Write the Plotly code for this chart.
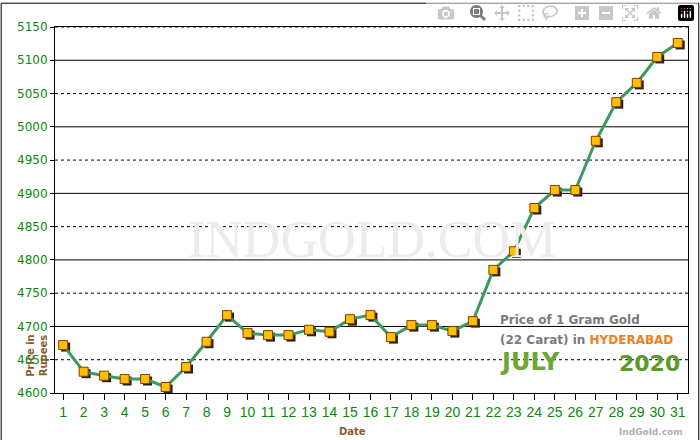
import plotly.graph_objects as go

days = list(range(1, 32))
prices = [4672, 4632, 4626, 4621, 4621, 4609, 4639, 4677, 4717, 4690,
          4687, 4687, 4695, 4692, 4711, 4717, 4684, 4702, 4702, 4693,
          4708, 4785, 4813, 4878, 4905, 4905, 4979, 5037, 5066, 5105, 5126]
y_ticks = list(range(4600, 5151, 50))

fig = go.Figure()
# shadow markers
fig.add_trace(go.Scatter(x=[d + 0.12 for d in days], y=[p - 3 for p in prices], mode="markers",
                         marker=dict(symbol="square", size=9, color="#222"), hoverinfo="skip"))
fig.add_trace(go.Scatter(x=days, y=prices, mode="lines+markers",
                         line=dict(color="#3c9a5f", width=3),
                         marker=dict(symbol="square", size=9, color="#ffc000",
                                     line=dict(color="#8a3a00", width=1))))

# gridlines: solid at hundreds, dotted at fifties
for v in y_ticks[1:]:
    fig.add_shape(type="line", xref="paper", x0=0, x1=1, y0=v, y1=v, layer="below",
                  line=dict(color="#000", width=1, dash="solid" if v % 100 == 0 else "dot"))

fig.add_annotation(text="INDGOLD.COM", xref="paper", yref="paper", x=0.5, y=0.42,
                   showarrow=False, font=dict(family="Liberation Serif", size=52, color="#ececec"))
fig.add_annotation(text="<b>Price in<br>Rupees</b>", xref="paper", yref="paper", x=-0.05, y=0.04,
                   textangle=-90, showarrow=False,
                   font=dict(family="Verdana, DejaVu Sans", size=10, color="#8b5a2b"))
fig.add_annotation(text="<b>Price of 1 Gram Gold</b>", xref="paper", yref="paper",
                   x=0.7, y=0.175, xanchor="left", showarrow=False,
                   font=dict(family="Verdana, DejaVu Sans", size=12, color="#7a7a7a"))
fig.add_annotation(text="<b>(22 Carat) in <span style='color:#f08020'>HYDERABAD</span></b>",
                   xref="paper", yref="paper", x=0.7, y=0.12, xanchor="left", showarrow=False,
                   font=dict(family="Verdana, DejaVu Sans", size=12, color="#7a7a7a"))
fig.add_annotation(text="<b>JULY</b>", xref="paper", yref="paper", x=0.7, y=0.04,
                   xanchor="left", showarrow=False,
                   font=dict(family="DejaVu Sans", size=24, color="#6aa832"))
fig.add_annotation(text="<b>2020</b>", xref="paper", yref="paper", x=0.99, y=0.04,
                   xanchor="right", showarrow=False,
                   font=dict(family="DejaVu Sans", size=22, color="#5a9a2a"))
fig.add_annotation(text="<b>IndGold.com</b>", xref="paper", yref="paper", x=0.995, y=-0.125,
                   xanchor="right", showarrow=False,
                   font=dict(family="Verdana, DejaVu Sans", size=9, color="#b0b0b0"))
fig.add_annotation(text="<b>Date</b>", xref="paper", yref="paper", x=0.47, y=-0.125,
                   showarrow=False, font=dict(family="Verdana, DejaVu Sans", size=10, color="#8b5a2b"))

fig.add_shape(type="rect", xref="paper", yref="paper", x0=-0.085, x1=1.017, y0=-0.155, y1=1.065,
              line=dict(color="#000", width=1))

fig.update_layout(
    width=700, height=440, showlegend=False,
    paper_bgcolor="white", plot_bgcolor="white",
    margin=dict(l=55, r=12, t=27, b=47),
    xaxis=dict(range=[0.6, 31.5], tickmode="array", tickvals=days, ticks="outside",
               ticklen=6, tickcolor="#000", showgrid=False, showline=True, linecolor="#000",
               mirror=True,
               tickfont=dict(family="Liberation Sans Narrow, Arial", size=14, color="#0a8a0a")),
    yaxis=dict(range=[4600, 5150], tickmode="array", tickvals=y_ticks, ticks="outside",
               ticklen=4, tickcolor="#000", showline=True, linecolor="#000", mirror=True,
               showgrid=False,
               tickfont=dict(family="Verdana, DejaVu Sans", size=12, color="#0a8a0a")),
)

fig.write_html("out.html", post_script="document.body.style.margin='0';")
